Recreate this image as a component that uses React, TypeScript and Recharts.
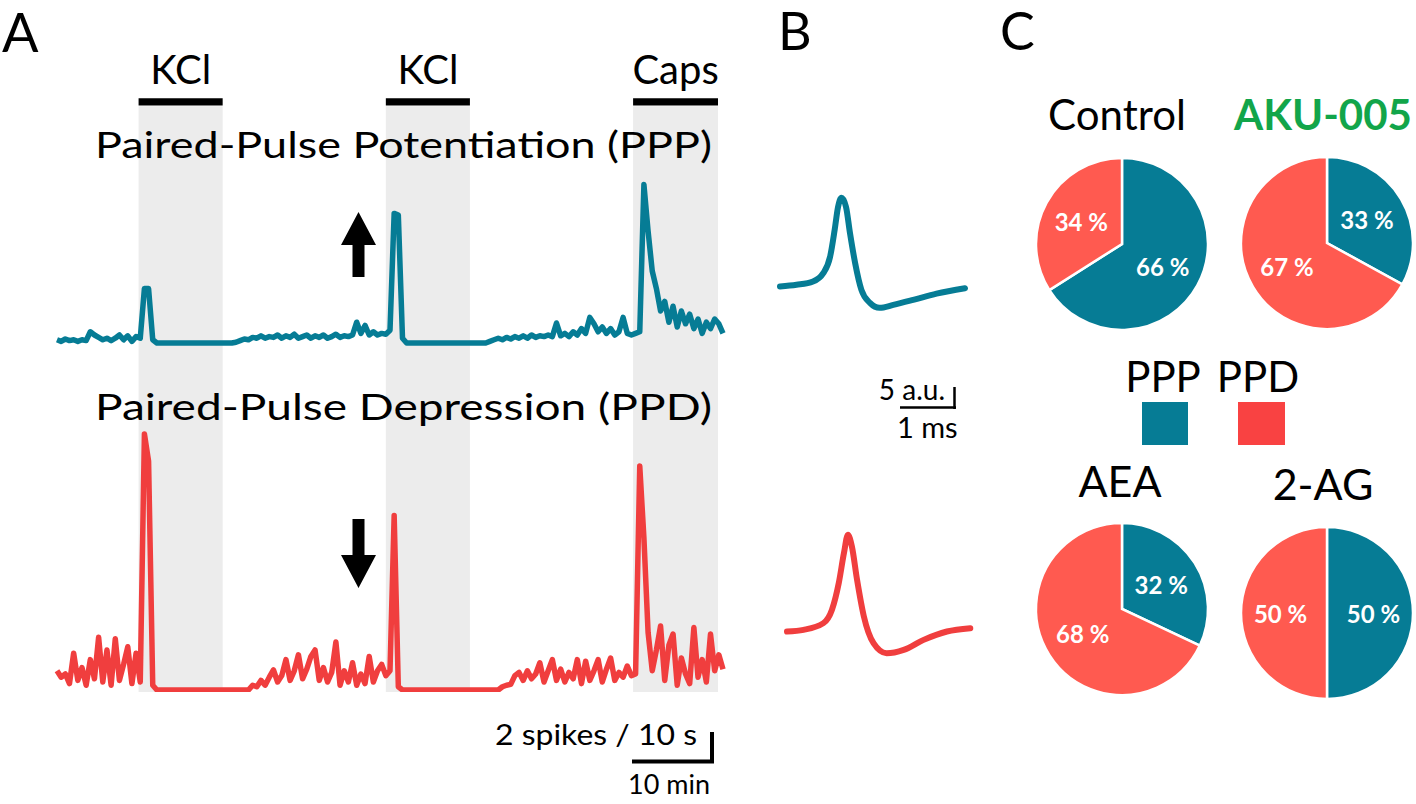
import React from "react";
import {
  LineChart,
  Line,
  XAxis,
  YAxis,
  ReferenceArea,
  PieChart,
  Pie,
  Cell,
} from "recharts";

// ---- panel A: firing rate (spikes / 10 s) sampled every 0.5 min ----
const minutes = [
  0, 0.5, 1, 1.5, 2, 2.5, 3, 3.5, 4, 4.5, 5, 5.5, 6, 6.5, 7, 7.5, 8, 8.5, 9, 9.5,
  10, 10.5, 11, 11.5, 12, 12.5, 13, 13.5, 14, 14.5, 15, 15.5, 16, 16.5, 17, 17.5, 18, 18.5, 19, 19.5,
  20, 20.5, 21, 21.5, 22, 22.5, 23, 23.5, 24, 24.5, 25, 25.5, 26, 26.5, 27, 27.5, 28, 28.5, 29, 29.5,
  30, 30.5, 31, 31.5, 32, 32.5, 33, 33.5, 34, 34.5, 35, 35.5, 36, 36.5, 37, 37.5, 38, 38.5, 39, 39.5,
  40, 40.5, 41, 41.5, 42, 42.5, 43, 43.5, 44, 44.5, 45, 45.5, 46, 46.5, 47, 47.5, 48, 48.5, 49, 49.5,
  50, 50.5, 51, 51.5, 52, 52.5, 53, 53.5, 54, 54.5, 55, 55.5, 56, 56.5, 57, 57.5, 58, 58.5, 59, 59.5,
  60, 60.5, 61, 61.5, 62, 62.5, 63, 63.5, 64, 64.5, 65, 65.5, 66, 66.5, 67, 67.5, 68, 68.5, 69, 69.5,
  70, 70.5, 71, 71.5, 72, 72.5, 73, 73.5, 74, 74.5, 75, 75.5, 76, 76.5, 77, 77.5, 78, 78.5, 79, 79.5,
  80,
];

const pppRate = [
  0.2, 0.1, 0.25, 0.15, 0.2, 0.1, 0.2, 0.15, 0.7, 0.5, 0.35, 0.2, 0.3, 0.15, 0.3, 0.5, 0.2, 0.45, 0.1, 0.4,
  0.3, 3.4, 3.4, 0.2, 0, 0, 0, 0, 0, 0, 0, 0, 0, 0, 0, 0, 0, 0, 0, 0,
  0, 0, 0, 0.05, 0.15, 0.25, 0.2, 0.35, 0.3, 0.45, 0.3, 0.4, 0.35, 0.5, 0.3, 0.45, 0.35, 0.55, 0.3, 0.4,
  0.5, 0.3, 0.45, 0.35, 0.5, 0.3, 0.4, 0.55, 0.35, 0.45, 0.4, 0.5, 1.3, 0.6, 1.1, 0.5, 0.7, 0.5, 0.6, 0.55,
  0.8, 8.1, 8.0, 0.3, 0, 0, 0, 0, 0, 0, 0, 0, 0, 0, 0, 0, 0, 0, 0, 0,
  0, 0, 0, 0, 0.1, 0.2, 0.3, 0.2, 0.35, 0.25, 0.4, 0.3, 0.45, 0.3, 0.5, 0.35, 0.45, 0.4, 0.5, 0.4,
  1.25, 0.45, 0.6, 0.4, 0.7, 0.5, 0.9, 0.6, 1.6, 1.2, 0.7, 1.0, 0.6, 0.9, 0.5, 0.7, 1.6, 0.6, 0.5, 0.6,
  0.7, 9.9, 7.0, 4.5, 3.4, 2.0, 2.6, 1.3, 2.3, 1.0, 2.0, 1.2, 1.8, 0.9, 1.5, 0.6, 1.3, 0.9, 1.5, 1.2,
  0.6,
];

const ppdRate = [
  1.2, 0.8, 1.0, 0.4, 2.3, 0.6, 1.4, 0.3, 1.9, 0.7, 3.3, 0.5, 2.5, 0.3, 3.2, 0.6, 1.6, 2.7, 0.4, 2.3,
  0.5, 16.0, 14.3, 0.3, 0, 0, 0, 0, 0, 0, 0, 0, 0, 0, 0, 0, 0, 0, 0, 0,
  0, 0, 0, 0, 0, 0, 0, 0.3, 0.2, 0.6, 0.3, 0.8, 1.25, 0.5, 0.9, 1.9, 0.6, 1.2, 2.2, 0.7,
  1.3, 2.1, 2.5, 0.6, 1.4, 0.5, 1.1, 3.0, 0.3, 1.2, 0.5, 1.7, 0.3, 1.0, 0.4, 2.1, 0.5, 1.2, 1.6, 0.9,
  1.2, 10.9, 0.2, 0, 0, 0, 0, 0, 0, 0, 0, 0, 0, 0, 0, 0, 0, 0, 0, 0,
  0, 0, 0, 0, 0, 0, 0, 0.2, 0.3, 0.35, 0.9, 1.1, 0.6, 1.2, 0.7, 1.0, 1.7, 0.5, 1.2, 1.9,
  0.6, 1.3, 0.5, 1.1, 0.7, 1.9, 0.4, 1.8, 0.6, 1.2, 1.9, 0.5, 1.3, 2.0, 0.6, 1.1, 0.8, 1.5, 0.9, 1.0,
  14.0, 9.5, 3.6, 1.2, 2.5, 4.0, 0.6, 2.8, 3.5, 0.3, 2.0, 1.0, 0.4, 3.9, 0.8, 1.9, 0.5, 3.5, 1.2, 2.2,
  1.3,
];

const treatments = ["KCl", "KCl", "Caps"];
const treatStart = [9.8, 39.5, 69.2];
const treatEnd = [19.9, 49.6, 79.4];

// ---- panel B: average spike waveforms (ms, a.u.) ----
const pppSpikeT = [0, 0.29, 0.58, 0.76, 0.88, 0.96, 1.02, 1.08, 1.16, 1.23, 1.32, 1.43, 1.58, 1.75, 1.99, 2.34, 2.75, 3.25];
const pppSpikeV = [0, 0.4, 1.2, 3.2, 7.1, 13.5, 19.0, 21.2, 19.0, 12.7, 5.6, -0.8, -3.9, -5.1, -4.4, -3.2, -1.7, -0.4];
const ppdSpikeT = [0, 0.29, 0.64, 0.79, 0.91, 1.0, 1.07, 1.14, 1.23, 1.35, 1.52, 1.75, 2.05, 2.4, 2.81, 3.22];
const ppdSpikeV = [0, 0.4, 2.0, 5.2, 11.6, 18.7, 23.1, 20.3, 12.4, 3.6, -2.8, -5.2, -4.4, -2.0, 0, 0.8];

// ---- panel C: share of neurons ----
const groups = ["Control", "AKU-005", "AEA", "2-AG"];
const pppShare = [66, 33, 32, 50];
const ppdShare = [34, 67, 68, 50];

const TEAL = "#067C95";
const RED_TRACE = "#F03E3E";
const RED_PIE = "#FF5A50";
const RED_KEY = "#F94242";
const BAND = "#ECECEC";
const FONT = "Lato, 'Open Sans', sans-serif";

const traceRows = minutes.map((t, i) => ({ t, ppp: pppRate[i], ppd: ppdRate[i] }));
const pppWave = pppSpikeT.map((t, i) => ({ t, v: pppSpikeV[i] }));
const ppdWave = ppdSpikeT.map((t, i) => ({ t, v: ppdSpikeV[i] }));

const RAD = Math.PI / 180;

function pctLabel(props: any) {
  const { cx, cy, midAngle, outerRadius, value } = props;
  const r = outerRadius * 0.54;
  const x = cx + r * Math.cos(-midAngle * RAD);
  const y = cy + r * Math.sin(-midAngle * RAD);
  return (
    <text
      x={x}
      y={y}
      fill="#fff"
      textAnchor="middle"
      dominantBaseline="central"
      fontFamily={FONT}
      fontWeight={700}
      fontSize={24}
    >
      {`${value} %`}
    </text>
  );
}

function Waveform({ data, color, left, top }: { data: any[]; color: string; left: number; top: number }) {
  return (
    <div style={{ position: "absolute", left, top }}>
      <LineChart width={197} height={146} data={data} margin={{ top: 6, right: 6, bottom: 6, left: 6 }}>
        <XAxis type="number" dataKey="t" domain={[0, 3.25]} hide />
        <YAxis domain={[-8, 24]} hide />
        <Line
          type="monotone"
          dataKey="v"
          stroke={color}
          strokeWidth={6}
          strokeLinecap="round"
          dot={false}
          activeDot={false}
          isAnimationActive={false}
        />
      </LineChart>
    </div>
  );
}

export default function App() {
  const pies = [
    { cx: 122, cy: 104 },
    { cx: 327, cy: 103 },
    { cx: 122, cy: 469 },
    { cx: 327, cy: 473 },
  ];

  return (
    <div style={{ position: "absolute", left: 0, top: 0, width: 1416, height: 804, background: "#fff", overflow: "hidden" }}>
      {/* A: firing rate traces */}
      <div style={{ position: "absolute", left: 52, top: 40 }}>
        <LineChart width={676} height={660} data={traceRows} margin={{ top: 0, right: 5, bottom: 8, left: 5 }}>
          <XAxis type="number" dataKey="t" domain={[0, 80]} hide />
          <YAxis yAxisId="ppp" domain={[-21.8125, 18.9375]} hide allowDataOverflow />
          <YAxis yAxisId="ppd" domain={[-0.125, 40.625]} hide allowDataOverflow />
          {treatments.map((name, i) => (
            <ReferenceArea
              key={`band${i}`}
              yAxisId="ppp"
              x1={treatStart[i]}
              x2={treatEnd[i]}
              y1={-21.8125}
              y2={14.8}
              fill={BAND}
              fillOpacity={1}
              stroke="none"
            />
          ))}
          {treatments.map((name, i) => (
            <ReferenceArea
              key={`bar${i}`}
              yAxisId="ppp"
              x1={treatStart[i]}
              x2={treatEnd[i]}
              y1={14.85}
              y2={15.3}
              fill="#000"
              fillOpacity={1}
              stroke="none"
              label={{ value: name, position: "top", offset: 14, fontSize: 40, fill: "#000", fontFamily: FONT }}
            />
          ))}
          <Line
            yAxisId="ppp"
            type="linear"
            dataKey="ppp"
            stroke={TEAL}
            strokeWidth={5.5}
            strokeLinejoin="round"
            dot={false}
            activeDot={false}
            isAnimationActive={false}
          />
          <Line
            yAxisId="ppd"
            type="linear"
            dataKey="ppd"
            stroke={RED_TRACE}
            strokeWidth={5.5}
            strokeLinejoin="round"
            dot={false}
            activeDot={false}
            isAnimationActive={false}
          />
        </LineChart>
      </div>

      {/* B: spike waveforms */}
      <Waveform data={pppWave} color={TEAL} left={774} top={180} />
      <Waveform data={ppdWave} color={RED_TRACE} left={781} top={525} />

      {/* C: pies */}
      <div style={{ position: "absolute", left: 1000, top: 140 }}>
        <PieChart width={416} height={600} margin={{ top: 0, right: 0, bottom: 0, left: 0 }}>
          {groups.map((g, i) => (
            <Pie
              key={g}
              data={[
                { name: "PPP", value: pppShare[i] },
                { name: "PPD", value: ppdShare[i] },
              ]}
              dataKey="value"
              cx={pies[i].cx}
              cy={pies[i].cy}
              outerRadius={86}
              startAngle={90}
              endAngle={-270}
              stroke="#fff"
              strokeWidth={2.5}
              label={pctLabel}
              labelLine={false}
              isAnimationActive={false}
            >
              <Cell fill={TEAL} />
              <Cell fill={RED_PIE} />
            </Pie>
          ))}
        </PieChart>
      </div>

      {/* annotations */}
      <svg width={1416} height={804} style={{ position: "absolute", left: 0, top: 0, pointerEvents: "none" }} fontFamily={FONT}>
        <text x={2} y={52} fontSize={54}>A</text>
        <text x={778} y={50} fontSize={52}>B</text>
        <text x={1000} y={50} fontSize={52}>C</text>

        <text x={95} y={158} fontSize={37} textLength={617} lengthAdjust="spacingAndGlyphs">
          Paired-Pulse Potentiation (PPP)
        </text>
        <text x={95} y={420} fontSize={37} textLength={617} lengthAdjust="spacingAndGlyphs">
          Paired-Pulse Depression (PPD)
        </text>

        <polygon points="358.5,212 376,245 364.5,245 364.5,277 352.5,277 352.5,245 341,245" fill="#000" />
        <polygon points="352.5,519 364.5,519 364.5,555 376,555 358.5,588 341,555 352.5,555" fill="#000" />

        <text x={495} y={745} fontSize={28} textLength={202} lengthAdjust="spacingAndGlyphs">2 spikes / 10 s</text>
        <text x={628} y={794} fontSize={27}>10 min</text>
        <line x1={712} y1={732} x2={712} y2={763} stroke="#000" strokeWidth={4} />
        <line x1={632} y1={761.5} x2={714} y2={761.5} stroke="#000" strokeWidth={4} />

        <text x={945} y={400} fontSize={28} textAnchor="end">5 a.u.</text>
        <text x={897} y={438} fontSize={29}>1 ms</text>
        <line x1={954.5} y1={387} x2={954.5} y2={409} stroke="#000" strokeWidth={2.5} />
        <line x1={900} y1={407.5} x2={956} y2={407.5} stroke="#000" strokeWidth={2.5} />

        <text x={1117} y={130} fontSize={42} textAnchor="middle">Control</text>
        <text x={1323} y={130} fontSize={42} fontWeight={700} fill="#12A54A" textAnchor="middle">AKU-005</text>
        <text x={1163} y={392} fontSize={42} textAnchor="middle">PPP</text>
        <text x={1258} y={392} fontSize={42} textAnchor="middle">PPD</text>
        <rect x={1142} y={402} width={46} height={43} fill={TEAL} />
        <rect x={1238} y={402} width={47} height={43} fill={RED_KEY} />
        <text x={1120} y={497} fontSize={43} textAnchor="middle">AEA</text>
        <text x={1323} y={500} fontSize={43} textAnchor="middle">2-AG</text>
      </svg>
    </div>
  );
}
